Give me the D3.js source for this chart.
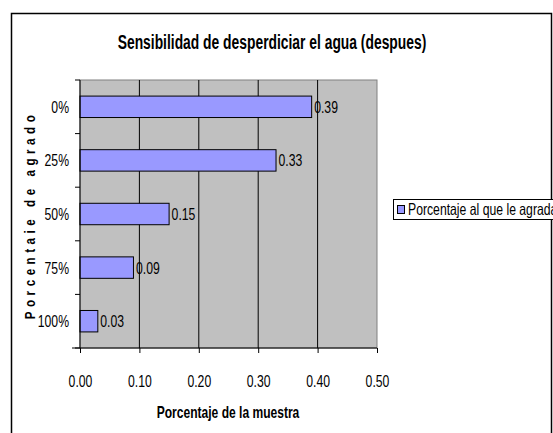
<!doctype html>
<html lang="es">
<head>
<meta charset="UTF-8">
<title>Sensibilidad de desperdiciar el agua</title>
<style>
  body { margin: 0; background: #fff; }
  svg text { font-family: "Liberation Sans Narrow", "Arial Narrow", "Liberation Sans", Arial, sans-serif; }
</style>
</head>
<body>
<svg id="chart" width="553" height="433"></svg>
<script src="https://d3js.org/d3.v7.min.js"></script>
<script>
    let categories = ["0%", "25%", "50%", "75%", "100%"];
    let values = [0.39, 0.33, 0.15, 0.09, 0.03];
    let xTicks = [0, 0.1, 0.2, 0.3, 0.4, 0.5];
    const seriesName = "Porcentaje al que le agrada";

    // squeeze text horizontally to mimic a narrow font
    function condense(sel, k) {
        sel.each(function () {
            let w = this.getComputedTextLength();
            d3.select(this)
                .attr("textLength", w * k)
                .attr("lengthAdjust", "spacingAndGlyphs");
        });
    }
    const fs = "16.5px", squeeze = 0.74;

    let svg = d3.select("#chart");

    // outer chart frame
    svg.append("rect")
        .attr("x", 11.5).attr("y", 13.5)
        .attr("width", 540).attr("height", 440)
        .attr("fill", "#fff")
        .attr("stroke", "#000").attr("stroke-width", 1.5);

    let plot = {left: 80, right: 377, top: 80, bottom: 348};

    let x = d3.scaleLinear()
        .domain([0, 0.5])
        .range([plot.left, plot.right]);

    let y = d3.scaleBand()
        .domain(categories)
        .range([plot.top, plot.bottom])
        .paddingInner(0.6)
        .paddingOuter(0.3);

    let yOuter = d3.scaleBand()
        .domain(categories)
        .range([plot.top, plot.bottom]);

    // plot area
    svg.append("rect")
        .attr("x", plot.left).attr("y", plot.top)
        .attr("width", plot.right - plot.left)
        .attr("height", plot.bottom - plot.top)
        .attr("fill", "#c0c0c0")
        .attr("stroke", "#808080");

    // vertical gridlines
    svg.append("g")
        .selectAll("line")
        .data(xTicks.slice(1, -1))
        .enter().append("line")
        .attr("x1", d => x(d)).attr("x2", d => x(d))
        .attr("y1", plot.top).attr("y2", plot.bottom)
        .attr("stroke", "#000").attr("stroke-width", 1);

    // bars
    svg.append("g")
        .selectAll("rect")
        .data(values)
        .enter().append("rect")
        .attr("x", x(0))
        .attr("y", (d, i) => y(categories[i]))
        .attr("width", d => x(d) - x(0))
        .attr("height", y.bandwidth())
        .attr("fill", "#9999ff")
        .attr("stroke", "#000").attr("stroke-width", 1);

    // value labels
    svg.append("g")
        .selectAll("text")
        .data(values)
        .enter().append("text")
        .attr("x", d => x(d) + 2.5)
        .attr("y", (d, i) => y(categories[i]) + y.bandwidth() / 2)
        .attr("dy", "0.36em")
        .attr("font-size", fs)
        .text(d => d.toFixed(2))
        .call(condense, squeeze);

    // x axis
    let xAxis = svg.append("g")
        .attr("transform", "translate(0," + plot.bottom + ")")
        .call(d3.axisBottom(x).tickValues(xTicks).tickFormat(d3.format(".2f")).tickSize(5).tickPadding(22));
    xAxis.select(".domain").attr("stroke", "#000").attr("d", "M" + (plot.left - 8) + ",0H" + plot.right);
    xAxis.selectAll("text").attr("font-size", fs).attr("font-family", null).attr("fill", "#000").call(condense, squeeze);

    // y axis with ticks between categories
    let yAxis = svg.append("g")
        .attr("transform", "translate(" + plot.left + ",0)");
    yAxis.append("line")
        .attr("x1", 0).attr("x2", 0)
        .attr("y1", plot.top).attr("y2", plot.bottom)
        .attr("stroke", "#000");
    yAxis.selectAll("line.tick")
        .data(categories.concat(["end"]))
        .enter().append("line")
        .attr("class", "tick")
        .attr("x1", -5).attr("x2", 0)
        .attr("y1", (d, i) => i < categories.length ? yOuter(d) : plot.bottom)
        .attr("y2", (d, i) => i < categories.length ? yOuter(d) : plot.bottom)
        .attr("stroke", "#000");
    yAxis.selectAll("text")
        .data(categories)
        .enter().append("text")
        .attr("x", -11)
        .attr("y", d => yOuter(d) + yOuter.bandwidth() / 2)
        .attr("dy", "0.36em")
        .attr("text-anchor", "end")
        .attr("font-size", fs)
        .text(d => d)
        .call(condense, squeeze);

    // titles
    svg.append("text")
        .attr("x", 272).attr("y", 49)
        .attr("text-anchor", "middle")
        .attr("font-size", "19.5px").attr("font-weight", "bold")
        .text("Sensibilidad de desperdiciar el agua (despues)")
        .call(condense, 0.71);

    svg.append("text")
        .attr("x", 228).attr("y", 418)
        .attr("text-anchor", "middle")
        .attr("font-size", fs).attr("font-weight", "bold")
        .text("Porcentaje de la muestra")
        .call(condense, 0.73);

    // rotated title: narrow glyphs with wide letter spacing
    let yTitle = svg.append("text")
        .attr("transform", "translate(35,215) rotate(-90) scale(0.75,1)")
        .attr("text-anchor", "middle")
        .attr("font-size", "15.5px").attr("font-weight", "bold")
        .text("Porcentaie de agrado");
    let nat = yTitle.node().getComputedTextLength();
    let n = yTitle.text().length;
    yTitle.attr("letter-spacing", ((204 / 0.75 - nat) / (n - 1)) + "px");

    // legend
    let legend = svg.append("g");
    legend.append("rect")
        .attr("x", 393.5).attr("y", 199.5)
        .attr("width", 170).attr("height", 20)
        .attr("fill", "#fff").attr("stroke", "#000");
    legend.append("rect")
        .attr("x", 397.5).attr("y", 205.5)
        .attr("width", 7).attr("height", 8)
        .attr("fill", "#9999ff").attr("stroke", "#000");
    legend.append("text")
        .attr("x", 408).attr("y", 209.5)
        .attr("dy", "0.36em")
        .attr("font-size", fs)
        .text(seriesName)
        .call(condense, squeeze);
</script>
</body>
</html>
